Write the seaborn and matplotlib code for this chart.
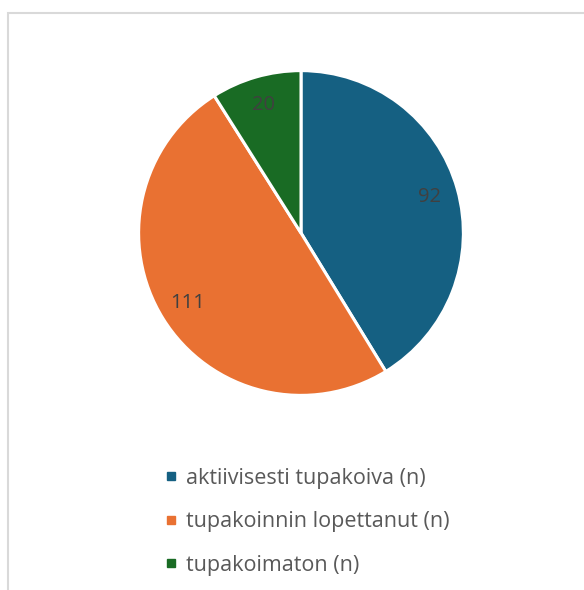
import matplotlib
matplotlib.use("Agg")
import matplotlib.pyplot as plt
import seaborn as sns
from matplotlib.lines import Line2D
from matplotlib.patches import Rectangle

categories = ["aktiivisesti tupakoiva (n)", "tupakoinnin lopettanut (n)", "tupakoimaton (n)"]
values = [92, 111, 20]
colors = ["#156082", "#E97132", "#196B24"]

sns.set_theme(style="white")
plt.rcParams['font.family'] = ['Open Sans', 'DejaVu Sans']

W, H = 584, 590
fig = plt.figure(figsize=(W / 100, H / 100), dpi=100)
fig.patch.set_facecolor("white")

# frame
fig.patches.append(Rectangle((7.5 / W, -0.1), 1.2, (H - 12.5) / H + 0.1, transform=fig.transFigure,
                             fill=False, edgecolor="#d9d9d9", linewidth=1.5))

cx, cy, r = 301, 233, 164
ax = fig.add_axes([(cx - r) / W, (H - cy - r) / H, 2 * r / W, 2 * r / H])
total = sum(values)
wedges, texts, autotexts = ax.pie(
    values, colors=colors, startangle=90, counterclock=False,
    autopct=lambda p: f"{round(p * total / 100):d}", pctdistance=0.82,
    wedgeprops=dict(edgecolor="white", linewidth=2.2),
    textprops=dict(color="#404040", fontsize=14.5))
ax.set_xlim(-1.01, 1.01)
ax.set_ylim(-1.01, 1.01)
ax.set_aspect("equal")
ax.axis("off")

handles = [Line2D([0], [0], marker="s", linestyle="none", markersize=5.5,
                  markerfacecolor=c, markeredgecolor=c) for c in colors]
fig.legend(handles, categories, loc="upper left", bbox_to_anchor=(166 / W, 1 - 468 / H),
           frameon=False, fontsize=15.5, labelcolor="#595959", handlelength=0.5,
           handletextpad=0.42, labelspacing=1.04, borderaxespad=0, borderpad=0)

fig.savefig("out.png", dpi=100, facecolor="white")
